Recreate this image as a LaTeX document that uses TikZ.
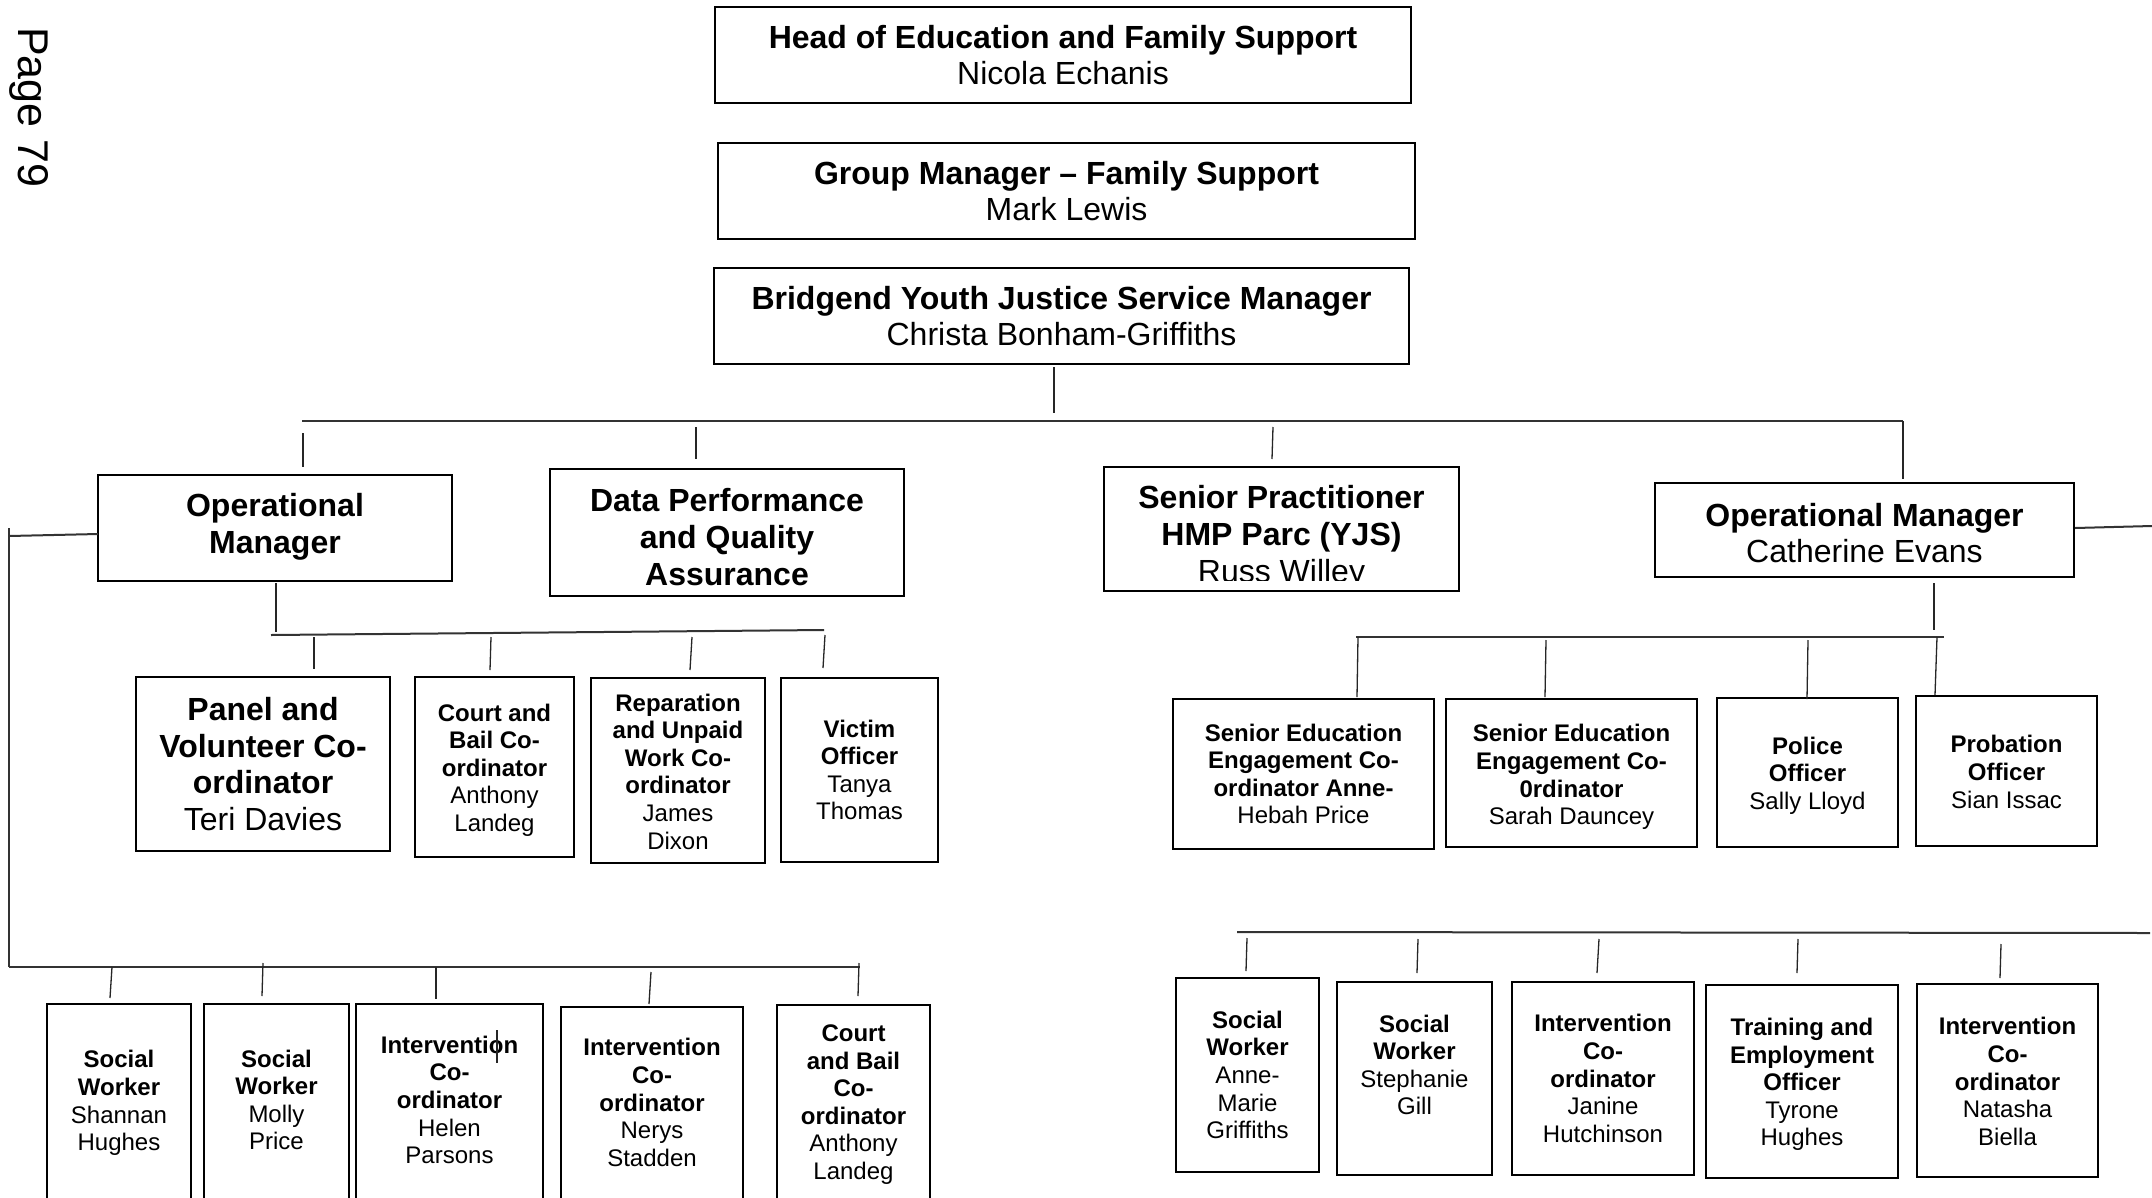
\documentclass[tikz,border=0pt]{standalone}
\usepackage{fontspec}
\setmainfont{Liberation Sans}
% name, text style, x, y, width, height, text y-offset, text
\newcommand{\orgbox}[8]{%
  \node[box, minimum width=#5pt, minimum height=#6pt] (#1) at (#3,#4) {};
  \node[#2, align=center, inner sep=0pt] (#1-txt) at (#3,#4+#7) {#8};}
\begin{document}
\begin{tikzpicture}[x=1pt,y=-1pt,
  box/.style={draw, line width=2.5pt, inner sep=0pt, fill=white},
  big/.style={font=\fontsize{32}{36.8}\selectfont},
  small/.style={font=\fontsize{24}{27.6}\selectfont},
  link/.style={line width=1.3pt, draw=black!85},
  bus/.style={line width=2pt, draw=black!80}]
\fill[white] (0,0) rectangle (2152,1197);
\useasboundingbox (0,0) rectangle (2152,1197);

% page number
\node[font=\fontsize{43}{48}\selectfont, rotate=-90, anchor=base west, inner sep=0pt] (pagenum) at (18,27) {Page 79};

% top chain
\orgbox{head}{big}{1063}{55}{696}{96}{0}{\textbf{Head of Education and Family Support}\\Nicola Echanis}
\orgbox{group}{big}{1066.5}{191}{697}{96}{0}{\textbf{Group Manager – Family Support}\\Mark Lewis}
\orgbox{bys}{big}{1061.5}{316}{695}{96}{0}{\textbf{Bridgend Youth Justice Service Manager}\\Christa Bonham-Griffiths}

% level 2
\orgbox{opl}{big}{275}{528}{354}{106}{-1.5}{\textbf{Operational}\\\textbf{Manager}}
\orgbox{dpq}{big}{727}{532.5}{354}{127}{4.5}{\textbf{Data Performance}\\\textbf{and Quality}\\\textbf{Assurance}}
\node[box, minimum width=355pt, minimum height=124pt] (sp) at (1281.5,529) {};
\begin{scope}
  \clip (1106,469) rectangle (1457,580);
  \node[big, align=center, inner sep=0pt] (sp-txt) at (1281.5,537)
    {\textbf{Senior Practitioner}\\\textbf{HMP Parc (YJS)}\\Russ Willey};
\end{scope}
\orgbox{opr}{big}{1864.5}{530}{419}{94}{3}{\textbf{Operational Manager}\\Catherine Evans}

% level 3 left
\orgbox{pvc}{big}{263}{764}{254}{174}{0}{\textbf{Panel and}\\\textbf{Volunteer Co-}\\\textbf{ordinator}\\Teri Davies}
\orgbox{cb1}{small}{494.5}{767}{159}{180}{3}{\textbf{Court and}\\\textbf{Bail Co-}\\\textbf{ordinator}\\Anthony\\Landeg}
\orgbox{rep}{small}{678}{770.5}{174}{185}{1}{\textbf{Reparation}\\\textbf{and Unpaid}\\\textbf{Work Co-}\\\textbf{ordinator}\\James\\Dixon}
\orgbox{vic}{small}{859.5}{770}{157}{184}{0}{\textbf{Victim}\\\textbf{Officer}\\Tanya\\Thomas}

% level 3 right
\orgbox{se1}{small}{1303.5}{774}{261}{150}{0}{\textbf{Senior Education}\\\textbf{Engagement Co-}\\\textbf{ordinator Anne-}\\Hebah Price}
\orgbox{se2}{small}{1571.5}{773}{251}{148}{4}{\textbf{Senior Education}\\\textbf{Engagement Co-}\\\textbf{0rdinator}\\Sarah Dauncey}
\orgbox{pol}{small}{1807.5}{772.5}{181}{149}{3}{\textbf{Police}\\\textbf{Officer}\\Sally Lloyd}
\orgbox{pro}{small}{2006.5}{771}{181}{150}{1}{\textbf{Probation}\\\textbf{Officer}\\Sian Issac}

% level 4 left
\orgbox{sw1}{small}{119}{1104}{144}{200}{-1}{\textbf{Social}\\\textbf{Worker}\\Shannan\\Hughes}
\orgbox{sw2}{small}{276.5}{1104}{145}{200}{-4}{\textbf{Social}\\\textbf{Worker}\\Molly\\Price}
\orgbox{ic1}{small}{449.5}{1104}{187}{200}{-4}{\textbf{Intervention}\\\textbf{Co-}\\\textbf{ordinator}\\Helen\\Parsons}
\orgbox{ic2}{small}{652}{1105.5}{182}{197}{-3}{\textbf{Intervention}\\\textbf{Co-}\\\textbf{ordinator}\\Nerys\\Stadden}
\orgbox{cb2}{small}{853.5}{1104.5}{153}{199}{0}{\textbf{Court}\\\textbf{and Bail}\\\textbf{Co-}\\\textbf{ordinator}\\Anthony\\Landeg}

% level 4 right
\orgbox{sw3}{small}{1247.5}{1075}{143}{194}{0}{\textbf{Social}\\\textbf{Worker}\\Anne-\\Marie\\Griffiths}
\orgbox{sw4}{small}{1414.5}{1078.5}{155}{193}{0}{\textbf{Social}\\\textbf{Worker}\\Stephanie\\Gill\\\mbox{}}
\orgbox{ic3}{small}{1603}{1078.5}{182}{193}{0}{\textbf{Intervention}\\\textbf{Co-}\\\textbf{ordinator}\\Janine\\Hutchinson}
\orgbox{tre}{small}{1802}{1081.5}{192}{193}{3}{\textbf{Training and}\\\textbf{Employment}\\\textbf{Officer}\\Tyrone\\Hughes}
\orgbox{ic4}{small}{2007.5}{1080.5}{181}{193}{1}{\textbf{Intervention}\\\textbf{Co-}\\\textbf{ordinator}\\Natasha\\Biella}

% buses
\coordinate (mbL) at (302,421);  \coordinate (mbR) at (1903,421);
\draw[bus] (mbL) -- (mbR);
\coordinate (lbL) at (271,635);  \coordinate (lbR) at (824,630);
\draw[bus] (lbL) -- (lbR);
\coordinate (rbL) at (1356,637); \coordinate (rbR) at (1944,637);
\draw[bus] (rbL) -- (rbR);
\coordinate (l4L) at (9,967);    \coordinate (l4R) at (860,967);
\draw[bus] (l4L) -- (l4R);
\coordinate (r4L) at (1237,932); \coordinate (r4R) at (2150,933);
\draw[bus] (r4L) -- (r4R);

% side links
\coordinate (oplW) at (98,534);  \coordinate (sideL) at (9,536);
\draw[bus] (oplW) -- (sideL);
\coordinate (sideT) at (9,528);
\draw[bus] (sideT) -- (l4L);
\coordinate (oprE) at (2075,528); \coordinate (oprX) at (2152,526);
\draw[bus] (oprE) -- (oprX);

% drops
\foreach \n/\xa/\ya/\xb/\yb in {
  byd/1054/367/1054/413,
  opld/303/433/303/467, dpqd/696/427/696/459, spd/1273/427/1272/459, oprd/1903/421/1903/479,
  oprdn/1934/583/1934/630, opldn/276/583/276/632,
  se1d/1358/637/1357/697, se2d/1546/640/1545/697, pold/1808/640/1807/699, prod/1937/637/1935/695,
  pvcd/314/637/314/669, cb1d/491/637/490/670, repd/692/637/690/670, vicd/825/635/823/668,
  sw1d/112/967/110/998, sw2d/263/963/262/996, ic1d/436/967/436/999, ic2d/651/972/649/1004, cb2d/859/963/858/996,
  stray/497/1030/497/1063,
  sw3d/1247/938/1246/971, sw4d/1418/939/1417/973, ic3d/1599/939/1597/973, tred/1798/939/1797/973, ic4d/2001/944/2000/978}
{
  \coordinate (\n-t) at (\xa,\ya);
  \coordinate (\n-b) at (\xb,\yb);
  \draw[link] (\n-t) -- (\n-b);
}
\end{tikzpicture}
\end{document}
